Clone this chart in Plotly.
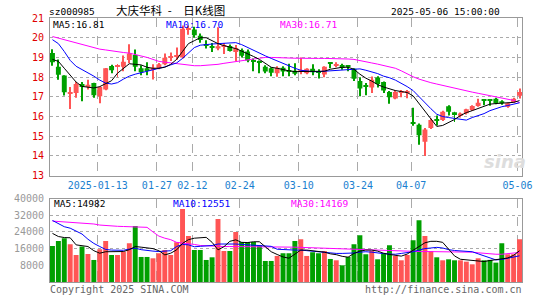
import plotly.graph_objects as go

# ---------------- data ----------------
dates = [
    "2024-12-31",
    "2025-01-02", "2025-01-03", "2025-01-06", "2025-01-07", "2025-01-08", "2025-01-09",
    "2025-01-10", "2025-01-13", "2025-01-14", "2025-01-15", "2025-01-16", "2025-01-17",
    "2025-01-20", "2025-01-21", "2025-01-22", "2025-01-23", "2025-01-24", "2025-01-27",
    "2025-02-05", "2025-02-06", "2025-02-07", "2025-02-10", "2025-02-11", "2025-02-12",
    "2025-02-13", "2025-02-14", "2025-02-17", "2025-02-18", "2025-02-19", "2025-02-20",
    "2025-02-21", "2025-02-24", "2025-02-25", "2025-02-26", "2025-02-27", "2025-02-28",
    "2025-03-03", "2025-03-04", "2025-03-05", "2025-03-06", "2025-03-07", "2025-03-10",
    "2025-03-11", "2025-03-12", "2025-03-13", "2025-03-14", "2025-03-17", "2025-03-18",
    "2025-03-19", "2025-03-20", "2025-03-21", "2025-03-24", "2025-03-25", "2025-03-26",
    "2025-03-27", "2025-03-28", "2025-03-31", "2025-04-01", "2025-04-02", "2025-04-03",
    "2025-04-07", "2025-04-08", "2025-04-09", "2025-04-10", "2025-04-11", "2025-04-14",
    "2025-04-15", "2025-04-16", "2025-04-17", "2025-04-18", "2025-04-21", "2025-04-22",
    "2025-04-23", "2025-04-24", "2025-04-25", "2025-04-28", "2025-04-29", "2025-04-30",
    "2025-05-06",
]

opens = [19.23, 18.53, 18.08, 17.15, 17.20, 17.65, 17.55, 17.70, 17.03, 17.37,
         18.57, 18.55, 18.53, 18.87, 19.12, 18.45, 18.45, 18.40, 18.47, 18.65,
         18.98, 19.06, 19.00, 20.40, 20.42, 20.10, 19.65, 19.52, 19.45, 19.55,
         19.58, 19.28, 19.37, 19.30, 18.82, 18.78, 18.53, 18.45, 18.20, 18.48,
         18.32, 18.32, 18.28, 18.20, 18.42, 18.27, 18.13, 18.70, 18.60, 18.62,
         18.55, 18.42, 17.80, 17.55, 17.48, 17.98, 17.75, 17.25, 16.92, 17.20,
         17.20, 15.68, 15.58, 14.72, 15.42, 15.85, 15.82, 16.52, 16.22, 16.04,
         16.17, 16.33, 16.53, 16.84, 16.83, 16.90, 16.78, 16.50, 16.73, 17.05]
highs = [19.42, 18.90, 18.10, 17.50, 17.75, 17.75, 17.87, 17.72, 17.52, 18.47,
         18.63, 18.67, 19.10, 19.67, 19.40, 18.60, 18.75, 18.65, 18.72, 19.20,
         19.25, 19.50, 20.62, 20.62, 20.55, 20.22, 19.87, 19.73, 20.53, 19.73,
         19.65, 19.63, 19.45, 19.40, 18.95, 18.85, 18.60, 18.50, 18.55, 18.55,
         18.68, 18.70, 19.00, 18.45, 18.65, 18.40, 18.55, 18.72, 18.75, 18.68,
         18.60, 18.45, 18.00, 17.70, 18.03, 18.05, 17.78, 17.30, 17.35, 17.35,
         17.35, 16.45, 15.65, 15.42, 15.90, 16.05, 16.30, 16.58, 16.25, 16.20,
         16.40, 16.57, 16.90, 16.85, 16.84, 16.95, 16.83, 16.70, 16.95, 17.42]
lows = [18.58, 17.87, 17.07, 16.38, 16.95, 16.78, 17.37, 16.95, 16.67, 17.33,
        18.20, 18.00, 18.30, 18.70, 18.30, 18.10, 18.10, 17.88, 18.40, 18.60,
        18.82, 18.88, 18.95, 20.15, 20.00, 19.75, 19.45, 19.28, 19.37, 19.17,
        19.30, 18.82, 19.00, 18.75, 18.30, 18.20, 18.20, 18.05, 18.02, 18.05,
        18.05, 18.10, 18.15, 18.15, 18.10, 17.93, 18.00, 18.45, 18.50, 18.38,
        18.30, 17.80, 17.03, 17.08, 17.20, 17.48, 17.20, 16.65, 16.88, 16.98,
        16.93, 15.53, 14.57, 14.00, 15.37, 15.55, 15.78, 16.05, 15.73, 15.95,
        16.10, 16.28, 16.50, 16.57, 16.55, 16.62, 16.60, 16.45, 16.70, 16.92]
closes = [18.75, 18.12, 17.23, 17.20, 17.65, 17.50, 17.62, 17.08, 17.50, 18.45,
          18.35, 18.62, 18.78, 19.20, 18.53, 18.25, 18.35, 18.48, 18.65, 18.98,
          19.02, 19.10, 20.45, 20.45, 20.13, 19.88, 19.60, 19.48, 19.57, 19.60,
          19.33, 19.48, 19.08, 18.85, 18.78, 18.75, 18.28, 18.22, 18.48, 18.28,
          18.28, 18.17, 18.35, 18.42, 18.25, 18.25, 18.53, 18.68, 18.63, 18.47,
          18.52, 17.92, 17.42, 17.52, 17.87, 17.65, 17.32, 16.98, 17.25, 17.23,
          17.23, 15.65, 15.05, 15.35, 15.82, 15.82, 16.25, 16.25, 16.12, 16.15,
          16.37, 16.53, 16.70, 16.83, 16.82, 16.67, 16.67, 16.67, 16.90, 17.25]

ma5 = [18.90, 18.80, 18.45, 18.10, 17.75, 17.53, 17.48, 17.45, 17.52, 17.65,
       17.82, 18.20, 18.45, 18.68, 18.65, 18.62, 18.50, 18.45, 18.45, 18.50,
       18.65, 18.90, 19.30, 19.70, 19.85, 20.00, 20.00, 19.85, 19.70, 19.60,
       19.52, 19.45, 19.32, 19.20, 19.05, 18.90, 18.68, 18.50, 18.45, 18.38,
       18.32, 18.28, 18.28, 18.27, 18.28, 18.28, 18.30, 18.40, 18.46, 18.50,
       18.50, 18.40, 18.15, 17.95, 17.80, 17.62, 17.50, 17.40, 17.32, 17.27,
       17.22, 17.05, 16.65, 16.25, 15.90, 15.50, 15.55, 15.68, 15.85, 16.05,
       16.20, 16.30, 16.42, 16.55, 16.63, 16.66, 16.67, 16.68, 16.72, 16.81]
ma10 = [19.90, 19.70, 19.30, 18.85, 18.55, 18.38, 18.25, 18.05, 17.85, 17.70,
        17.65, 17.72, 17.90, 18.05, 18.15, 18.22, 18.30, 18.38, 18.45, 18.52,
        18.62, 18.72, 18.95, 19.25, 19.50, 19.62, 19.66, 19.68, 19.70, 19.72,
        19.75, 19.75, 19.65, 19.50, 19.35, 19.22, 19.08, 18.95, 18.82, 18.70,
        18.58, 18.45, 18.35, 18.30, 18.28, 18.28, 18.30, 18.33, 18.35, 18.36,
        18.37, 18.40, 18.42, 18.35, 18.28, 18.18, 18.05, 17.97, 17.85, 17.70,
        17.52, 17.32, 17.00, 16.70, 16.40, 16.12, 16.00, 15.95, 15.90, 15.85,
        15.82, 15.95, 16.05, 16.15, 16.30, 16.42, 16.50, 16.56, 16.63, 16.70]
ma30 = [20.06, 19.98, 19.90, 19.80, 19.72, 19.63, 19.55, 19.48, 19.42, 19.38,
        19.33, 19.29, 19.25, 19.22, 19.15, 19.10, 19.00, 18.90, 18.80, 18.76,
        18.72, 18.68, 18.64, 18.60, 18.58, 18.58, 18.60, 18.63, 18.65, 18.70,
        18.75, 18.80, 18.83, 18.87, 18.92, 18.96, 19.00, 19.00, 19.00, 18.98,
        18.97, 18.96, 18.95, 18.95, 18.95, 18.95, 18.95, 18.95, 18.94, 18.93,
        18.92, 18.90, 18.85, 18.78, 18.72, 18.66, 18.60, 18.54, 18.45, 18.32,
        18.15, 18.02, 17.90, 17.80, 17.72, 17.65, 17.58, 17.50, 17.42, 17.36,
        17.30, 17.24, 17.18, 17.12, 17.06, 17.00, 16.95, 16.90, 16.82, 16.71]

volumes = [17280, 19680, 20960, 18080, 12960, 16960, 13440, 10560, 15680, 19680,
           12960, 12960, 14560, 18560, 26880, 12000, 12000, 11360, 13760, 15360,
           12960, 19040, 35040, 22080, 15360, 15360, 10560, 11840, 30240, 14880,
           14880, 24000, 19200, 19200, 19200, 17600, 10080, 10080, 12480, 13760,
           13760, 19680, 20480, 12480, 14240, 13760, 14880, 11040, 10400, 8000,
           12000, 18080, 22400, 13280, 14880, 10880, 13760, 17600, 12480, 10400,
           12960, 20000, 29600, 22080, 14880, 11840, 10400, 10880, 10400, 10400,
           9760, 8480, 11360, 10400, 10600, 9280, 18560, 13280, 13280, 20480]

vma5 = [23300, 21800, 21300, 21200, 17800, 17500, 17000, 15000, 13800, 14500,
        14600, 14600, 14600, 15500, 17000, 16700, 16500, 16000, 15000, 13000,
        13800, 15400, 18500, 20300, 21000, 21200, 21400, 19000, 15400, 16900,
        19500, 20200, 19000, 18900, 19300, 19300, 17000, 14500, 13200, 12000,
        11400, 13500, 15300, 15300, 15000, 14600, 14300, 13500, 13100, 12300,
        11900, 13700, 14800, 15300, 15300, 14800, 13800, 13200, 12800, 12400,
        13400, 15200, 17000, 18800, 19500, 19500, 19000, 15800, 12500, 10900,
        10600, 10400, 10000, 9800, 10300, 10600, 11000, 11500, 12800, 14982]
vma10 = [29500, 28000, 26500, 25800, 24500, 23000, 20500, 18500, 17000, 15600,
         15300, 15100, 15200, 15800, 16200, 15500, 15000, 14800, 14600, 14700,
         15000, 17000, 18000, 17800, 16900, 17100, 17300, 17500, 18200, 18300,
         18300, 18200, 18000, 17800, 17800, 17700, 17500, 17100, 15700, 15500,
         15400, 15300, 15300, 15000, 14700, 14500, 14300, 13900, 13700, 13700,
         13700, 13900, 14300, 14500, 14300, 13800, 13600, 13400, 13300, 13700,
         14100, 14500, 15300, 16000, 16300, 16600, 16300, 15500, 15100, 15000,
         14900, 14500, 13500, 12500, 11500, 10600, 10800, 11400, 11900, 12551]
vma30 = [29200, 29000, 29000, 28900, 28700, 28500, 28200, 27800, 27300, 27000,
         26800, 26700, 26600, 26500, 26500, 26400, 26200, 24000, 22000, 21000,
         20300, 19000, 18700, 18600, 18000, 17500, 17300, 17200, 17100, 17000,
         17000, 17000, 17000, 17000, 17000, 17000, 17000, 16950, 16900, 16850,
         16800, 16700, 16600, 16500, 16300, 16200, 16000, 15900, 15800, 15700,
         15600, 15500, 15400, 15350, 15200, 15000, 14900, 14800, 14700, 14600,
         14600, 14600, 14600, 14600, 14600, 14600, 14600, 14600, 14550, 14500,
         14500, 14300, 14000, 13700, 13400, 13300, 13300, 13500, 13700, 14169]

tick_dates = ["2025-01-13", "2025-01-27", "2025-02-12", "2025-02-24",
              "2025-03-10", "2025-03-24", "2025-04-07", "2025-05-06"]
price_ticks = [13, 14, 15, 16, 17, 18, 19, 20, 21]
volume_ticks = [8000, 16000, 24000, 32000, 40000]

stock_code = "sz000985"
stock_name = "大庆华科"
chart_kind = "日K线图"
timestamp = "2025-05-06 15:00:00"

# ---------------- styling ----------------
RED = "#ff5555"
GREEN = "#00a000"
MONO = "DejaVu Sans Mono"
CJK = "Noto Sans CJK SC"
W, H = 545, 300
L, R, T, B = 50, 529, 18, 285

def px(x):
    return (x - L) / (R - L)

def py(y):
    return (B - y) / (B - T)

idx = list(range(len(dates)))
colors = [RED if c >= o else GREEN for o, c in zip(opens, closes)]
body_base = [min(o, c) for o, c in zip(opens, closes)]
body_h = [max(abs(c - o), 0.05) for o, c in zip(opens, closes)]
wick_h = [h - l for h, l in zip(highs, lows)]

tick_pos = [dates.index(d) - 1 / 3 for d in tick_dates]
tick_text = [d if i == 0 else d[5:] for i, d in enumerate(tick_dates)]

fig = go.Figure()
fig.add_trace(go.Bar(x=idx, y=wick_h, base=lows, width=1 / 6,
                     marker=dict(color=colors, line=dict(width=0)),
                     xaxis="x", yaxis="y", hoverinfo="skip"))
fig.add_trace(go.Bar(x=idx, y=body_h, base=body_base, width=5 / 6,
                     marker=dict(color=colors, line=dict(width=0)),
                     xaxis="x", yaxis="y", hoverinfo="skip"))
for ser, col in ((ma30, "#ff00ff"), (ma10, "#0000ff"), (ma5, "#000000")):
    fig.add_trace(go.Scatter(x=idx, y=ser, mode="lines",
                             line=dict(color=col, width=1),
                             xaxis="x", yaxis="y", hoverinfo="skip"))

fig.add_trace(go.Bar(x=idx, y=volumes, width=5 / 6,
                     marker=dict(color=colors, line=dict(width=0)),
                     xaxis="x2", yaxis="y2", hoverinfo="skip"))
for ser, col in ((vma30, "#ff00ff"), (vma10, "#0000ff"), (vma5, "#000000")):
    fig.add_trace(go.Scatter(x=idx, y=ser, mode="lines",
                             line=dict(color=col, width=1),
                             xaxis="x2", yaxis="y2", hoverinfo="skip"))

xr = [-2.5 / 6, len(dates) - 1 + 2.5 / 6]
common_x = dict(range=xr, tickmode="array", tickvals=tick_pos, ticktext=tick_text,
                showgrid=True, gridcolor="#aaaaaa", griddash="dash", gridwidth=1,
                showline=True, mirror=True, linecolor="#999999", linewidth=1,
                zeroline=False, ticks="", fixedrange=True)

fig.update_layout(
    width=W, height=H,
    margin=dict(l=L, r=W - R, t=T, b=H - B, pad=0),
    paper_bgcolor="white", plot_bgcolor="white",
    showlegend=False, barmode="overlay",
    xaxis=dict(**common_x, anchor="y", domain=[0, 1],
               tickfont=dict(family=MONO, size=10, color="#1a7fd0")),
    xaxis2=dict(**common_x, anchor="y2", domain=[0, 1], showticklabels=False),
    yaxis=dict(domain=[py(177.5), 1], range=[13, 21], tickmode="array",
               tickvals=price_ticks, ticktext=[str(v) for v in price_ticks],
               showgrid=True, gridcolor="#aaaaaa",
               griddash="dot", showline=True, mirror=True, linecolor="#999999",
               zeroline=False, ticks="", ticklabelstandoff=3,
               tickfont=dict(family=MONO, size=10, color="#e00000")),
    yaxis2=dict(domain=[0, py(200.6)], range=[0, 40000], tickmode="array",
                tickvals=volume_ticks, ticktext=[str(v) for v in volume_ticks],
                showgrid=True, gridcolor="#aaaaaa",
                griddash="dot", showline=True, mirror=True, linecolor="#999999",
                zeroline=False, ticks="", ticklabelstandoff=3,
                tickfont=dict(family=MONO, size=10, color="#999999")),
)

def note(text, x, y, anchor="left", color="#000000", size=9.5, family=MONO, **kw):
    fig.add_annotation(text=text, x=px(x), y=py(y), xref="paper", yref="paper",
                       xanchor=anchor, yanchor="middle", showarrow=False,
                       borderpad=0,
                       font=dict(family=family, size=size, color=color), **kw)

note(stock_code, 48, 11)
note(f"{stock_name}\u2002-\u3000{chart_kind}", 116, 10, family=CJK, size=11.5)
note(timestamp, 508, 11, anchor="right")
note(f"MA5:{ma5[-1]:.2f}", 52, 24.5)
note(f"MA10:{ma10[-1]:.2f}", 167, 24.5, color="#0000ff")
note(f"MA30:{ma30[-1]:.2f}", 282, 24.5, color="#ff00ff")
note(f"MA5:{vma5[-1]:.0f}", 53, 206)
note(f"MA10:{vma10[-1]:.0f}", 174, 206, color="#0000ff")
note(f"MA30:{vma30[-1]:.0f}", 294, 206, color="#ff00ff")
note("Copyright 2025 SINA.COM", 49, 293, color="#666666", size=10)
note("http://finance.sina.com.cn", 530, 293, anchor="right", color="#666666", size=10)
note("<b><i>sina</i></b>", 512, 163, anchor="center", color="#dddddd", size=18,
     family="DejaVu Sans")

fig.write_html("out.html")
